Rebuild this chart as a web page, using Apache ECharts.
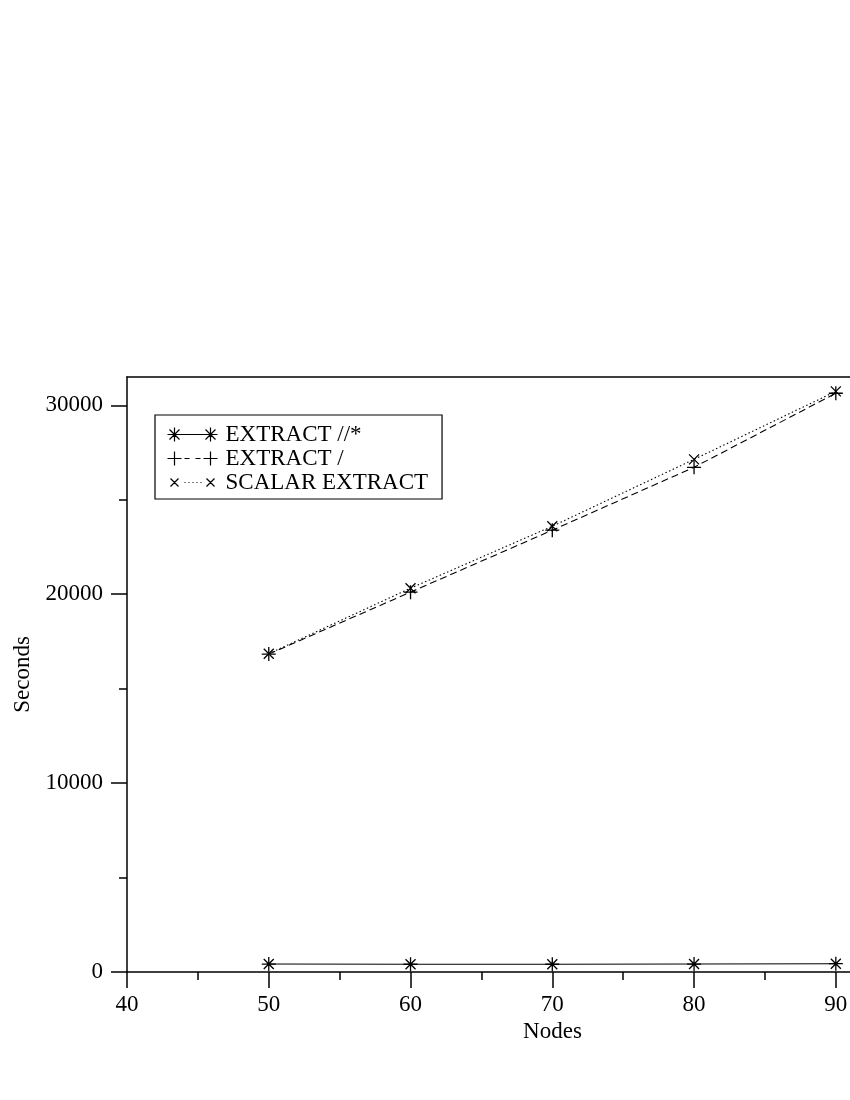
<!DOCTYPE html>
<html>
<head>
<meta charset="utf-8">
<title>Seconds vs Nodes</title>
<script src="https://cdn.jsdelivr.net/npm/echarts@6.0.0/dist/echarts.min.js"></script>
<style>
  html, body { margin: 0; padding: 0; background: #fff; }
  #chart { width: 850px; height: 1100px; }
</style>
</head>
<body>
<div id="chart"></div>
<script>
// values
var nodes = [50, 60, 70, 80, 90];
var extractAll = [420, 410, 410, 420, 440];              // EXTRACT //*
var extractChild = [16830, 20110, 23390, 26720, 30640];  // EXTRACT /
var scalarExtract = [16850, 20320, 23600, 27140, 30740]; // SCALAR EXTRACT
var seriesNames = ["EXTRACT //*", "EXTRACT /", "SCALAR EXTRACT"];
var xMajor = [40, 50, 60, 70, 80, 90];
var xMinor = [45, 55, 65, 75, 85];
var yMajor = [0, 10000, 20000, 30000];
var yMinor = [5000, 15000, 25000];

(function () {
  "use strict";

  var FONT = "'Liberation Serif', 'DejaVu Serif', serif";
  var INK = "#000";
  var X_MIN = 40, X_MAX = 91, Y_MIN = 0, Y_MAX = 31500;

  // ---------------- helpers ----------------
  function pairs(ys) { return nodes.map(function (x, i) { return [x, ys[i]]; }); }
  function txt(size) { return { fontFamily: FONT, fontSize: size, color: INK }; }
  function plainNum(v) { return String(v); }  // no thousands separator

  // marker shapes (stroked paths)
  var STAR = "path://M0,-7L0,7M-7,0L7,0M-5,-5L5,5M-5,5L5,-5";
  var PLUS = "path://M0,-7L0,7M-7,0L7,0";
  var CROSS = "path://M-5,-5L5,5M-5,5L5,-5";

  // legend keys: marker - line - marker, box padded to 53x14 so text sits 10px off
  function star(cx) {
    return "M" + cx + ",0L" + cx + ",14M" + (cx - 7) + ",7L" + (cx + 7) + ",7" +
      "M" + (cx - 5) + ",2L" + (cx + 5) + ",12M" + (cx - 5) + ",12L" + (cx + 5) + ",2";
  }
  function plus(cx) {
    return "M" + cx + ",0L" + cx + ",14M" + (cx - 7) + ",7L" + (cx + 7) + ",7";
  }
  function cross(cx) {
    return "M" + (cx - 4) + ",3L" + (cx + 4) + ",11M" + (cx - 4) + ",11L" + (cx + 4) + ",3";
  }
  var BOX = "M0,0M53,14";
  var KEY_SOLID = "path://" + BOX + star(7) + star(43) + "M7,7L43,7";
  var KEY_DASH = "path://" + BOX + plus(7) + plus(43) + "M17,7L22,7M28,7L33,7";
  var KEY_DOT = "path://" + BOX + cross(7) + cross(43) +
    "M17,7L18,7M21,7L22,7M25,7L26,7M29,7L30,7M33,7L34,7";

  function lineSeries(name, ys, symbol, size, lineType) {
    return {
      name: name,
      type: "line",
      data: pairs(ys),
      symbol: symbol,
      symbolSize: size,
      showAllSymbol: true,
      lineStyle: { color: INK, width: 1.1, type: lineType },
      itemStyle: { color: "none", borderColor: INK, borderWidth: 1.3 },
      emphasis: { disabled: true },
      silent: true,
      animation: false,
    };
  }

  function plainAxis(extra) {
    var base = {
      type: "value",
      splitLine: { show: false },
      axisLine: { show: false, onZero: false },
      axisTick: { show: false },
      axisLabel: { show: false },
      silent: true,
    };
    return Object.assign(base, extra);
  }

  // ---------------- chart ----------------
  var chart = echarts.init(document.getElementById("chart"), null, { renderer: "canvas" });

  chart.setOption({
    backgroundColor: "#fff",
    animation: false,
    grid: { left: 127, top: 377, right: 0, bottom: 128, outerBoundsMode: "none" },
    legend: {
      orient: "vertical",
      left: 155, top: 415,
      padding: [8, 14, 5, 10],
      itemGap: 1,
      itemWidth: 53, itemHeight: 14,
      borderColor: INK, borderWidth: 1.2,
      backgroundColor: "#fff",
      selectedMode: false,
      textStyle: { fontFamily: FONT, fontSize: 23, color: INK, lineHeight: 23 },
      itemStyle: { color: "none", borderColor: INK, borderWidth: 1.2 },
      data: [
        { name: seriesNames[0], icon: KEY_SOLID },
        { name: seriesNames[1], icon: KEY_DASH },
        { name: seriesNames[2], icon: KEY_DOT },
      ],
    },
    xAxis: [
      plainAxis({
        min: X_MIN, max: X_MAX, position: "bottom",
        axisLine: { show: true, onZero: false, lineStyle: { color: INK, width: 1.5 } },
        axisTick: { show: true, inside: false, length: 16, customValues: xMajor,
          lineStyle: { color: INK, width: 1.5 } },
        axisLabel: Object.assign({ show: true, margin: 21, customValues: xMajor,
          formatter: plainNum }, txt(23)),
        name: "Nodes", nameLocation: "middle", nameGap: 48,
        // the original title sits right of the visible axis middle
        nameTextStyle: Object.assign({ padding: [0, 0, 0, 128] }, txt(23)),
      }),
      plainAxis({
        min: X_MIN, max: X_MAX, position: "bottom",
        axisTick: { show: true, inside: false, length: 8, customValues: xMinor,
          lineStyle: { color: INK, width: 1.5 } },
      }),
      plainAxis({
        min: X_MIN, max: X_MAX, position: "top",
        axisLine: { show: true, onZero: false, lineStyle: { color: INK, width: 1.5 } },
      }),
    ],
    yAxis: [
      plainAxis({
        min: Y_MIN, max: Y_MAX, position: "left",
        axisLine: { show: true, onZero: false, lineStyle: { color: INK, width: 1.5 } },
        axisTick: { show: true, inside: false, length: 16, customValues: yMajor,
          lineStyle: { color: INK, width: 1.5 } },
        axisLabel: Object.assign({ show: true, margin: 24, customValues: yMajor,
          formatter: plainNum }, txt(23)),
        name: "Seconds", nameLocation: "middle", nameGap: 70, nameTextStyle: txt(23),
      }),
      plainAxis({
        min: Y_MIN, max: Y_MAX, position: "left",
        axisTick: { show: true, inside: false, length: 8, customValues: yMinor,
          lineStyle: { color: INK, width: 1.5 } },
      }),
    ],
    series: [
      lineSeries(seriesNames[0], extractAll, STAR, 14, "solid"),
      lineSeries(seriesNames[1], extractChild, PLUS, 14, [7, 4]),
      lineSeries(seriesNames[2], scalarExtract, CROSS, 10, [1.5, 2.5]),
    ],
  });
})();
</script>
</body>
</html>
